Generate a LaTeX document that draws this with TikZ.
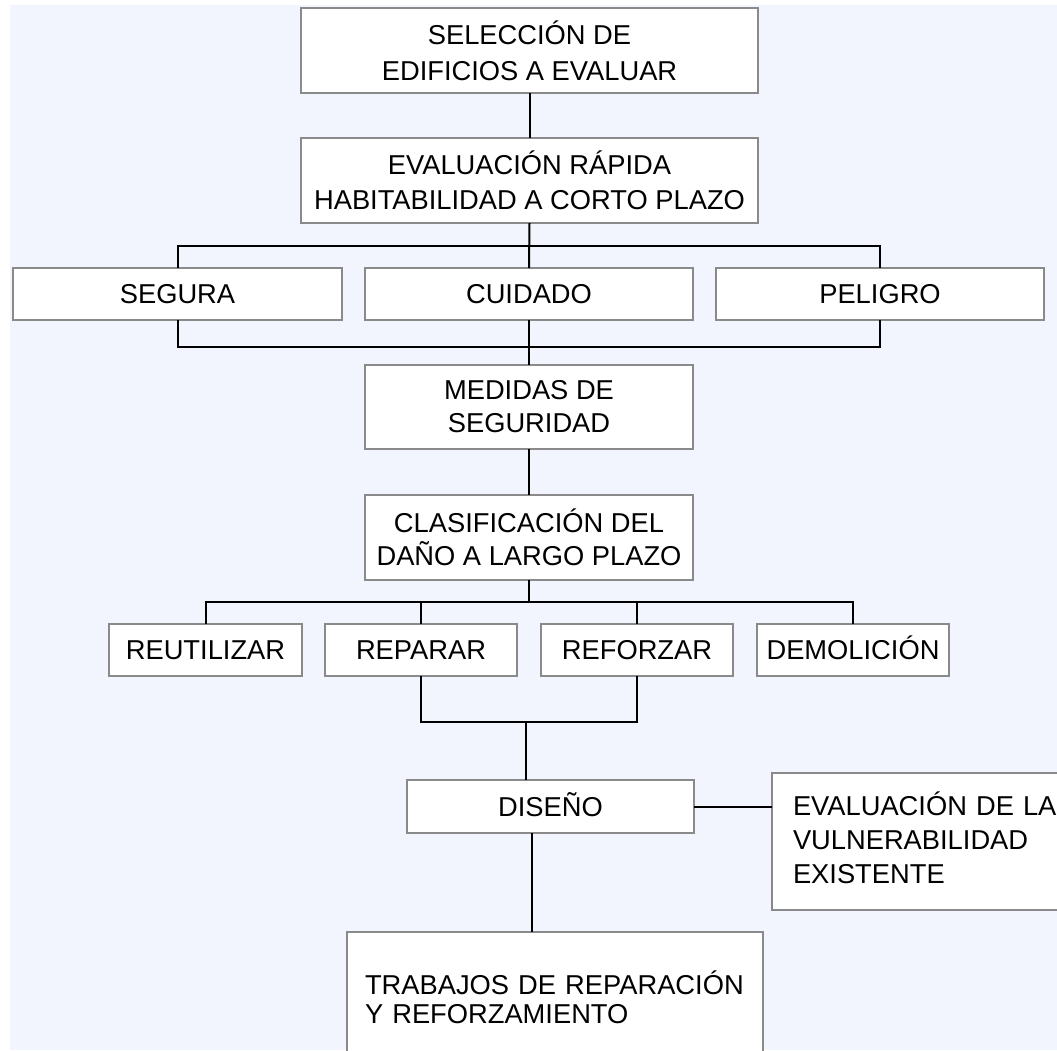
\documentclass[tikz,border=0pt]{standalone}
\usepackage{fontspec}
\setmainfont{Liberation Sans}
\definecolor{bgc}{RGB}{242,245,254}
\definecolor{bordc}{RGB}{138,138,138}
\begin{document}
\begin{tikzpicture}[x=1pt,y=-1pt,
  box/.style={draw=bordc,fill=white,line width=1.8pt,inner sep=0pt,outer sep=0pt,align=center},
  onebox/.style={box,font=\fontsize{27.3}{33}\selectfont,text height=19.6pt,text depth=0pt,minimum height=52pt},
  conn/.style={draw=black,line width=2pt},
  fs/.style={font=\fontsize{27.3}{#1}\selectfont}]
\useasboundingbox (0,0) rectangle (1057,1051);
\clip (0,0) rectangle (1057,1051);
\fill[bgc] (10,5) rectangle (1057,1050);

\node[box,fs=36,minimum width=457pt,minimum height=85pt] (b1) at (529.5,50.5) {SELECCIÓN DE\\EDIFICIOS A EVALUAR};
\node[box,fs=35,minimum width=457pt,minimum height=85pt] (b2) at (529.5,180.5) {EVALUACIÓN RÁPIDA\\HABITABILIDAD A CORTO PLAZO};
\node[onebox,minimum width=329pt] (seg) at (177.5,294) {SEGURA};
\node[onebox,minimum width=328pt] (cui) at (529,294) {CUIDADO};
\node[onebox,minimum width=328pt] (pel) at (880,294) {PELIGRO};
\node[box,fs=33,minimum width=328pt,minimum height=84pt] (med) at (529,407) {MEDIDAS DE\\SEGURIDAD};
\node[box,fs=32.5,minimum width=328pt,minimum height=85pt] (cla) at (529,537.5) {CLASIFICACIÓN DEL\\DAÑO A LARGO PLAZO};
\node[onebox,minimum width=193pt] (reu) at (205.5,650) {REUTILIZAR};
\node[onebox,minimum width=192pt] (rep) at (421,650) {REPARAR};
\node[onebox,minimum width=192pt] (ref) at (637,650) {REFORZAR};
\node[onebox,minimum width=192pt] (dem) at (853,650) {DEMOLICIÓN};
\node[onebox,minimum width=287pt,minimum height=53pt] (dis) at (550.5,806.5) {DISEÑO};
\node[box,align=left,fs=34,text width=280pt,inner xsep=21pt,minimum width=322pt,minimum height=137pt,text height=20pt,text depth=73pt] (eva) at (933,841.5) {EVALUACIÓN DE LA\\VULNERABILIDAD\\EXISTENTE};
\node[box,align=left,fs=29,text width=380pt,inner xsep=18pt,minimum width=416pt,minimum height=130pt] (tra) at (555,997) {TRABAJOS DE REPARACIÓN\\Y REFORZAMIENTO};

\coordinate (j1) at (529.5,246);
\coordinate (j2) at (529,347);
\coordinate (j3) at (529,602);
\coordinate (j4) at (526,722);

\draw[conn] (b1.south) -- (b2.north);
\draw[conn] (b2.south) -- (cui.north);
\draw[conn] (seg.north) |- (j1) -| (pel.north);
\draw[conn] (seg.south) |- (j2) -| (pel.south);
\draw[conn] (cui.south) -- (med.north);
\draw[conn] (med.south) -- (cla.north);
\draw[conn] (cla.south) -- (j3);
\draw[conn] (reu.north) |- (j3) -| (dem.north);
\draw[conn] (rep.north) -- (rep.north |- j3);
\draw[conn] (ref.north) -- (ref.north |- j3);
\draw[conn] (rep.south) |- (j4) -| (ref.south);
\draw[conn] (j4) -- (j4 |- dis.north);
\draw[conn] (dis.east) -- (dis.east -| eva.west);
\draw[conn] ([xshift=-18.5pt]dis.south) -- ([xshift=-18.5pt]dis.south |- tra.north);
\end{tikzpicture}
\end{document}
